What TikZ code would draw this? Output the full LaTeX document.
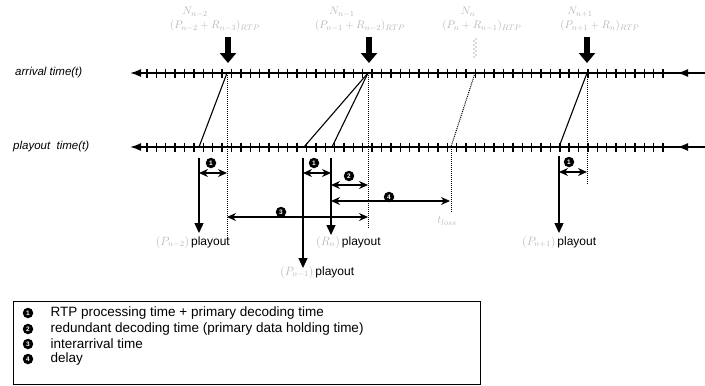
\documentclass[tikz,border=0pt]{standalone}
\usepackage{fontspec}
\setmainfont{Liberation Sans}
\usepackage{amsmath}
\usepackage{tikz}
\usetikzlibrary{arrows.meta,positioning,decorations.pathmorphing}

\tikzset{
  axisline/.style={line width=1.7pt},
  tickmark/.style={line width=1.4pt},
  sendline/.style={line width=1.1pt},
  guide/.style={densely dotted,line width=1pt},
  bigarrow/.style={line width=5.5pt,-{Triangle[length=10pt,width=16pt]}},
  playarrow/.style={line width=1.3pt,-{Triangle[length=10pt,width=9pt]}},
  timearrow/.style={line width=1.3pt,{Stealth[length=9pt,width=8pt]}-{Stealth[length=9pt,width=8pt]}},
  numdot/.style={circle,fill=black,text=white,inner sep=0pt,minimum size=10.5pt,
    font=\fontsize{6.5}{7}\selectfont\bfseries},
  axislabel/.style={font=\fontsize{11.5}{12}\selectfont\itshape,inner sep=0pt},
  toplab/.style={text=gray!55,font=\fontsize{11}{12}\selectfont,inner sep=0pt},
  playlab/.style={font=\fontsize{12}{13}\selectfont,inner sep=0pt},
  legendtext/.style={font=\fontsize{13.5}{14}\selectfont,inner sep=0pt,anchor=west},
}

\begin{document}
\begin{tikzpicture}[x=1pt,y=-1pt]
  \useasboundingbox (0,0) rectangle (705,386);
  % axes
  \coordinate (arrL) at (130,73);
  \coordinate (arrM) at (677,73);
  \coordinate (arrR) at (705,73);
  \coordinate (plyL) at (130,147);
  \coordinate (plyM) at (677,147);
  \coordinate (plyR) at (705,147);
  \draw[axisline,-{Latex[length=11pt,width=8pt]}] (arrR) -- (arrL);
  \draw[axisline,-{Latex[length=11pt,width=8pt]}] (arrR) -- (arrM);
  \draw[axisline,-{Latex[length=11pt,width=8pt]}] (plyR) -- (plyL);
  \draw[axisline,-{Latex[length=11pt,width=8pt]}] (plyR) -- (plyM);
  \foreach \i in {0,...,55} {
    \draw[tickmark] (147+\i*9.382,68.5) -- (147+\i*9.382,77.5);
    \draw[tickmark] (147+\i*9.382,142.5) -- (147+\i*9.382,151.5);
  }
  \node[axislabel,anchor=west] (arrlab) at (15,73) {arrival time(t)};
  \node[axislabel,anchor=west] (plylab) at (13,147) {playout\ \ time(t)};

  % packets sent
  \node[toplab] (N1) at (195,12) {$N_{n-2}$};
  \node[toplab] (R1) at (215,26) {$(P_{n-2}+R_{n-3})_{RTP}$};
  \node[toplab] (N2) at (342,12) {$N_{n-1}$};
  \node[toplab] (R2) at (360,26) {$(P_{n-1}+R_{n-2})_{RTP}$};
  \node[toplab] (N3) at (468,12) {$N_{n}$};
  \node[toplab] (R3) at (482,26) {$(P_{n}+R_{n-1})_{RTP}$};
  \node[toplab] (N4) at (580,12) {$N_{n+1}$};
  \node[toplab] (R4) at (600,26) {$(P_{n+1}+R_{n})_{RTP}$};
  \coordinate (lostA) at (475,38);
  \coordinate (lostB) at (475,58);
  \draw[gray!55,thin,decorate,decoration={zigzag,amplitude=2pt,segment length=4pt}] (lostA) -- (lostB);

  % arrival points
  \coordinate (a1) at (227,73);
  \coordinate (a2) at (368,73);
  \coordinate (a3) at (475,73);
  \coordinate (a4) at (587,73);
  \coordinate (b1) at (228,37);
  \coordinate (b2) at (369,37);
  \coordinate (b4) at (587,37);
  \draw[bigarrow] (b1) -- (228,63);
  \draw[bigarrow] (b2) -- (369,63);
  \draw[bigarrow] (b4) -- (587,63);

  % playout points
  \coordinate (p1) at (199,147);
  \coordinate (p2) at (304,147);
  \coordinate (p2r) at (332,147);
  \coordinate (p3) at (451,147);
  \coordinate (p4) at (559,147);
  \draw[sendline] (a1) -- (p1);
  \draw[sendline] (a2) -- (p2);
  \draw[sendline] (a2) -- (p2r);
  \draw[sendline] (a4) -- (p4);
  \draw[guide] (a3) -- (p3);

  % dotted guides
  \coordinate (g1) at (227,240);
  \coordinate (g2) at (368,229);
  \coordinate (g3) at (451,212);
  \coordinate (g4) at (587,185);
  \draw[guide] (a1) -- (g1);
  \draw[guide] (a2) -- (g2);
  \draw[guide] (p3) -- (g3);
  \draw[guide] (a4) -- (g4);

  % playout arrows
  \coordinate (s1) at (199,158);
  \coordinate (e1) at (199,233);
  \coordinate (s2) at (303,158);
  \coordinate (e2) at (303,268);
  \coordinate (s3) at (331,158);
  \coordinate (e3) at (331,235);
  \coordinate (s4) at (559,156);
  \coordinate (e4) at (559,233);
  \draw[playarrow] (s1) -- (e1);
  \draw[playarrow] (s2) -- (e2);
  \draw[playarrow] (s3) -- (e3);
  \draw[playarrow] (s4) -- (e4);
  \node[playlab,anchor=east] (L1) at (230,242) {\textcolor{gray!55}{$(P_{n-2})$}\,playout};
  \node[playlab,anchor=west] (L2) at (280,272) {\textcolor{gray!55}{$(P_{n-1})$}\,playout};
  \node[playlab,anchor=west] (L3) at (316,242) {\textcolor{gray!55}{$(R_{n})$}\,playout};
  \node[playlab,anchor=west] (L4) at (522,242) {\textcolor{gray!55}{$(P_{n+1})$}\,playout};
  \node[toplab] (tloss) at (447,221) {$t_{loss}$};

  % time intervals
  \coordinate (h1a) at (199,173);
  \coordinate (h1b) at (227,173);
  \coordinate (h2a) at (303,173);
  \coordinate (h2b) at (331,173);
  \coordinate (h3a) at (331,185);
  \coordinate (h3b) at (368,185);
  \coordinate (h4a) at (331,201);
  \coordinate (h4b) at (450,201);
  \coordinate (h5a) at (227,217);
  \coordinate (h5b) at (368,217);
  \coordinate (h6a) at (559,172);
  \coordinate (h6b) at (587,172);
  \draw[timearrow] (h1a) -- (h1b);
  \draw[timearrow] (h2a) -- (h2b);
  \draw[timearrow] (h3a) -- (h3b);
  \draw[timearrow] (h4a) -- (h4b);
  \draw[timearrow] (h5a) -- (h5b);
  \draw[timearrow] (h6a) -- (h6b);
  \node[numdot] (n1) at (211,163) {1};
  \node[numdot] (n2) at (314,163) {1};
  \node[numdot] (n3) at (349,176) {2};
  \node[numdot] (n4) at (389,197) {4};
  \node[numdot] (n5) at (281,212) {3};
  \node[numdot] (n6) at (569,162) {1};

  % legend
  \node[draw,thin,minimum width=467pt,minimum height=83pt,inner sep=0pt,anchor=north west] (legend) at (13,301) {};
  \node[numdot] (k1) at (28,313) {1};
  \node[numdot] (k2) at (28,329) {2};
  \node[numdot] (k3) at (28,344) {3};
  \node[numdot] (k4) at (28,359) {4};
  \node[legendtext,right=17pt of k1] (t1) {RTP processing time + primary decoding time};
  \node[legendtext,right=17pt of k2] (t2) {redundant decoding time (primary data holding time)};
  \node[legendtext,right=17pt of k3] (t3) {interarrival time};
  \node[legendtext,right=17pt of k4] (t4) {delay};
\end{tikzpicture}
\end{document}
